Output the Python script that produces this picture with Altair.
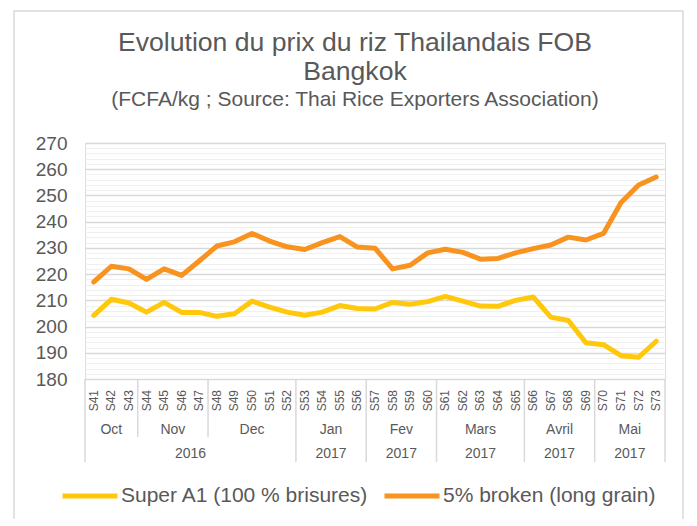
import altair as alt
import pandas as pd

weeks = ["S41", "S42", "S43", "S44", "S45", "S46", "S47", "S48", "S49", "S50", "S51",
         "S52", "S53", "S54", "S55", "S56", "S57", "S58", "S59", "S60", "S61", "S62",
         "S63", "S64", "S65", "S66", "S67", "S68", "S69", "S70", "S71", "S72", "S73"]

super_a1 = [204.3, 210.4, 209.0, 205.5, 209.2, 205.4, 205.4, 203.9, 204.9, 209.7, 207.4,
            205.5, 204.3, 205.5, 208.0, 206.9, 206.7, 209.2, 208.5, 209.5, 211.5, 209.7,
            207.8, 207.7, 210.0, 211.3, 203.6, 202.3, 193.8, 193.1, 188.9, 188.3, 194.4]

broken5 = [217.0, 223.0, 222.0, 218.0, 222.0, 219.5, 225.0, 230.7, 232.3, 235.5, 232.6,
           230.4, 229.4, 232.0, 234.3, 230.3, 229.9, 222.0, 223.4, 228.1, 229.5, 228.3,
           225.7, 226.0, 228.1, 229.7, 231.1, 234.1, 233.0, 235.5, 247.3, 254.0, 257.0]

series_names = ["Super A1 (100 % brisures)", "5% broken (long grain)"]
series_colors = ["#FFC80A", "#F7931E"]

months = ["Oct", "Nov", "Dec", "Jan", "Fev", "Mars", "Avril", "Mai"]
month_start = [0, 3, 7, 12, 16, 20, 25, 29]
month_end = [2, 6, 11, 15, 19, 24, 28, 32]

years = ["2016", "2017", "2017", "2017", "2017", "2017"]
year_start = [0, 12, 16, 20, 25, 29]
year_end = [11, 15, 19, 24, 28, 32]

y_ticks = list(range(180, 271, 2))

TXT = "#595959"
GRID = "#D9D9D9"
FONT = "Liberation Sans"
W, H = 580, 236

n = len(weeks)
df = pd.DataFrame({
    "idx": list(range(n)) * 2,
    "week": weeks * 2,
    "series": [series_names[0]] * n + [series_names[1]] * n,
    "price": super_a1 + broken5,
})
week_df = pd.DataFrame({"idx": list(range(n)), "week": weeks})

month_df = pd.DataFrame({"label": months, "start": month_start, "end": month_end})
month_df["center"] = (month_df["start"] + month_df["end"]) / 2
year_df = pd.DataFrame({"label": years, "start": year_start, "end": year_end})
year_df["center"] = (year_df["start"] + year_df["end"]) / 2

year_bounds = sorted(set([s - 0.5 for s in year_start] + [year_end[-1] + 0.5]))
short_bounds = [s - 0.5 for s in month_start if (s - 0.5) not in year_bounds]
full_df = pd.DataFrame({"b": year_bounds})
short_df = pd.DataFrame({"b": short_bounds})

xscale = alt.Scale(domain=[-0.5, n - 0.5], nice=False, zero=False)

lines = alt.Chart(df).mark_line(strokeWidth=5, strokeCap="round", strokeJoin="round").encode(
    x=alt.X("idx:Q", scale=xscale,
            axis=alt.Axis(values=list(range(n)), labels=False, ticks=False,
                          grid=False, domainColor=GRID, domainWidth=1.5, title=None)),
    y=alt.Y("price:Q", scale=alt.Scale(domain=[180, 270], nice=False, zero=False),
            axis=alt.Axis(values=y_ticks,
                          labelExpr="datum.value % 10 === 0 ? datum.label : ''",
                          gridColor={"condition": {"test": "datum.value % 10 === 0", "value": GRID},
                                     "value": "#F0F0F0"},
                          gridWidth={"condition": {"test": "datum.value % 10 === 0", "value": 1.5},
                                     "value": 1},
                          domain=False, ticks=False, labelFontSize=19, labelColor=TXT,
                          labelPadding=18, title=None, labelFont=FONT)),
    color=alt.Color("series:N", scale=alt.Scale(domain=series_names, range=series_colors),
                    legend=alt.Legend(orient="none", legendX=-25, legendY=323,
                                      direction="horizontal", title=None, symbolType="stroke",
                                      symbolSize=3025, symbolStrokeWidth=5, labelFontSize=21,
                                      labelColor=TXT, labelFont=FONT, columnPadding=5,
                                      labelOffset=1, labelLimit=400)),
)

week_text = alt.Chart(week_df).mark_text(
    angle=270, align="right", baseline="middle", fontSize=12, color=TXT, font=FONT).encode(
    x=alt.X("idx:Q", scale=xscale, axis=None), y=alt.value(H + 11), text="week:N")

full_rules = alt.Chart(full_df).mark_rule(color=GRID, strokeWidth=1.5).encode(
    x=alt.X("b:Q", scale=xscale, axis=None), y=alt.value(H), y2=alt.value(H + 83))
short_rules = alt.Chart(short_df).mark_rule(color=GRID, strokeWidth=1.5).encode(
    x=alt.X("b:Q", scale=xscale, axis=None), y=alt.value(H), y2=alt.value(H + 58))

month_text = alt.Chart(month_df).mark_text(fontSize=14, color=TXT, font=FONT, baseline="middle").encode(
    x=alt.X("center:Q", scale=xscale, axis=None), y=alt.value(H + 51), text="label:N")
year_text = alt.Chart(year_df).mark_text(fontSize=14, color=TXT, font=FONT, baseline="middle").encode(
    x=alt.X("center:Q", scale=xscale, axis=None), y=alt.value(H + 75), text="label:N")

frame = alt.Chart(alt.Data(values=[{"a": 1}])).mark_rect(
    fillOpacity=0, stroke=GRID, strokeWidth=1.5).encode(
    x=alt.value(-71), x2=alt.value(598), y=alt.value(-132), y2=alt.value(420))

chart = alt.layer(frame, full_rules, short_rules, week_text, month_text, year_text, lines).properties(
    width=W, height=H,
    autosize=alt.AutoSizeParams(type="none"),
    padding={"left": 77, "top": 135, "right": 24, "bottom": 140},
    title=alt.TitleParams(
        text=["Evolution du prix du riz Thailandais FOB", "Bangkok"],
        subtitle="(FCFA/kg ; Source: Thai Rice Exporters Association)",
        fontSize=26.6, subtitleFontSize=21, color=TXT, subtitleColor=TXT,
        font=FONT, subtitleFont=FONT, fontWeight="normal", anchor="middle",
        frame="group", dx=-20, dy=122,
        lineHeight=29, subtitlePadding=4, offset=22),
).configure_view(stroke=None).configure(font=FONT, background="white")

chart.save("out.html", embed_options={"renderer": "svg", "actions": False})
